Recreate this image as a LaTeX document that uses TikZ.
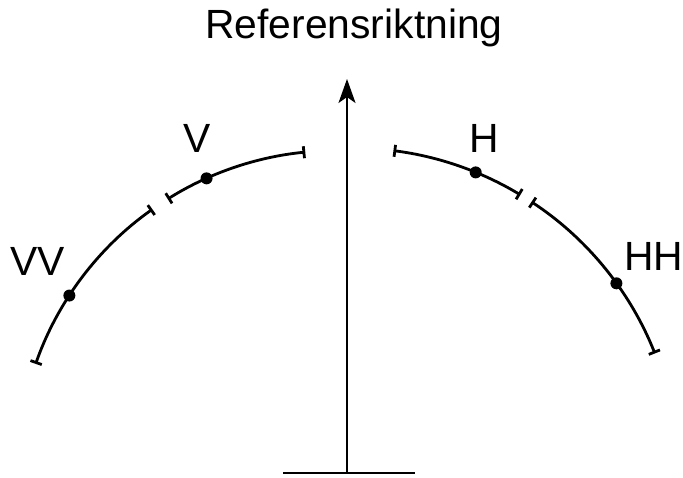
\documentclass[tikz,border=0pt]{standalone}
\usepackage{fontspec}
\setmainfont{Liberation Sans}
\usetikzlibrary{arrows.meta}

\begin{document}
\begin{tikzpicture}[x=0.5pt, y=0.5pt,
    track/.style={line width=1.4pt, {Bar[width=6pt]}-{Bar[width=6pt]}},
    dot/.style={circle, fill, inner sep=0pt, minimum size=6pt},
    lbl/.style={font=\fontsize{20.4}{24}\selectfont, anchor=base, inner sep=0pt},
    refarrow/.style={-{Stealth[length=12pt, width=8.5pt, inset=3pt]}, line width=1.1pt},
]
\useasboundingbox (0,0) rectangle (683,477);

% centres of the two arcs
\coordinate (lc) at (337,7);
\coordinate (rc) at (352,3);

% reference direction
\coordinate (foot) at (347,4);
\coordinate (top) at (347,398);
\coordinate (baseL) at (283,4);
\coordinate (baseR) at (415,4);
\draw[line width=1pt] (baseL) -- (baseR);
\draw[refarrow] (foot) -- (top);
\node[lbl] (ref) at (354,438) {Referensriktning};

% left side
\draw[track] ([shift={(95.7:319.5)}]lc) arc[start angle=95.7, end angle=122, radius=319.5];
\draw[track] ([shift={(125.3:319.5)}]lc) arc[start angle=125.3, end angle=160.6, radius=319.5];
\node[dot] (v) at ([shift={(114.1:319.5)}]lc) {};
\node[dot] (vv) at ([shift={(146.9:319.5)}]lc) {};
\node[lbl] (vlab) at (197.5,324) {V};
\node[lbl] (vvlab) at (37.5,202) {VV};

% right side
\draw[track] ([shift={(82.7:326)}]rc) arc[start angle=82.7, end angle=58.9, radius=326];
\draw[track] ([shift={(56.6:326)}]rc) arc[start angle=56.6, end angle=21.7, radius=326];
\node[dot] (h) at ([shift={(67.7:326)}]rc) {};
\node[dot] (hh) at ([shift={(35.8:326)}]rc) {};
\node[lbl] (hlab) at (484,324) {H};
\node[lbl] (hhlab) at (653.5,207) {HH};

\end{tikzpicture}
\end{document}
